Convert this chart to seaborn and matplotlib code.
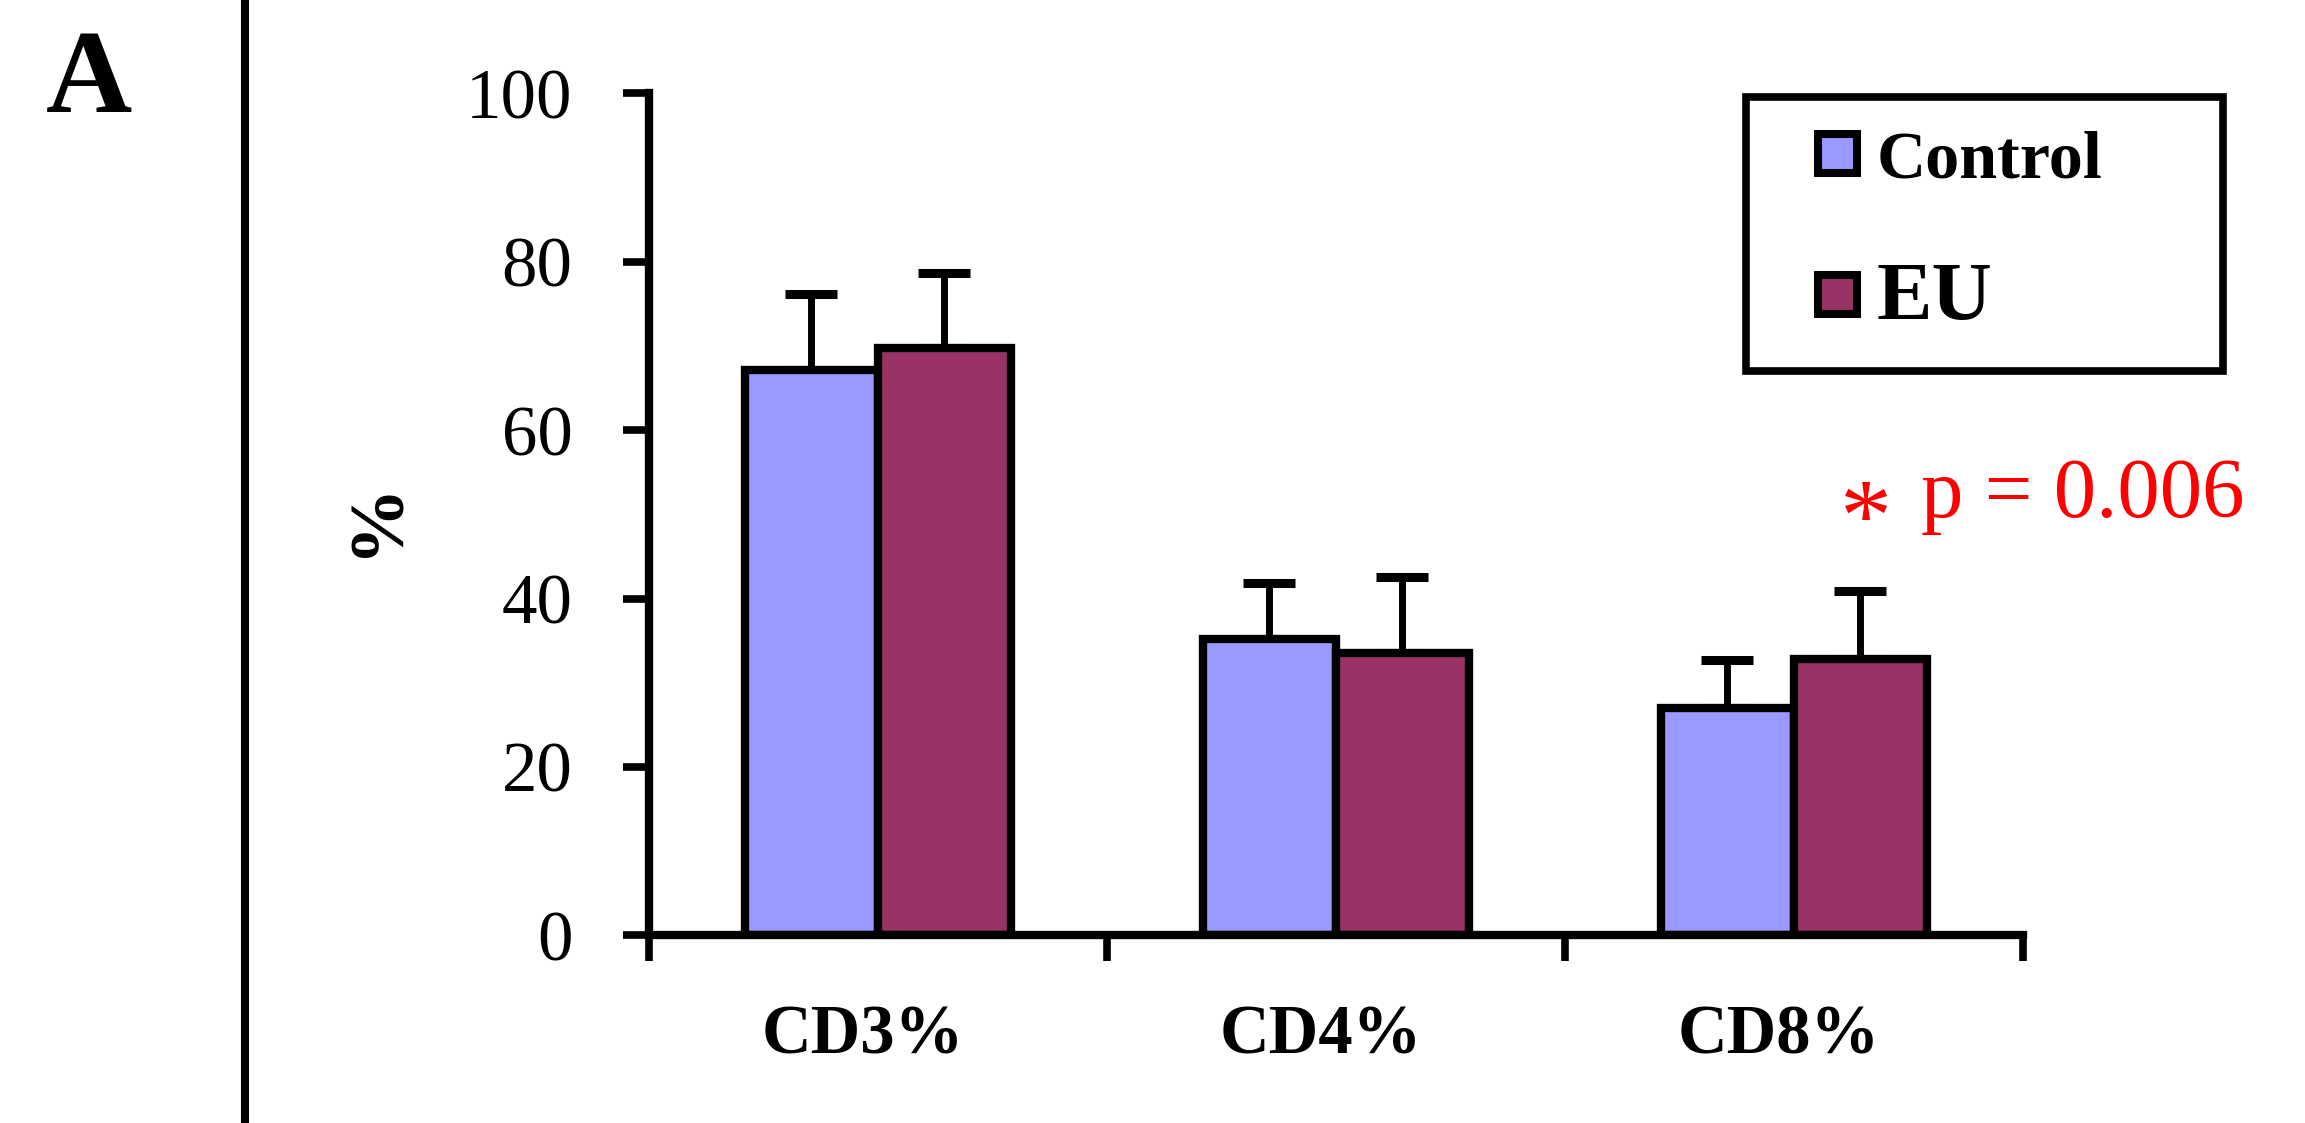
import numpy as np
import pandas as pd
import matplotlib
matplotlib.use('Agg')
import matplotlib.pyplot as plt
import seaborn as sns
from matplotlib.patches import Rectangle
from matplotlib.lines import Line2D

# ---- data ----
categories = ['CD3%', 'CD4%', 'CD8%']
groups = ['Control', 'EU']
control_mean = [67.1, 35.2, 27.0]
control_err = [9.1, 6.6, 5.7]
eu_mean = [69.7, 33.5, 32.8]
eu_err = [9.0, 9.1, 8.1]
yticks = [0, 20, 40, 60, 80, 100]
colors = ['#9999FF', '#993366']
panel_label = 'A'
ylabel = '%'
star_text = '*'
p_text = 'p = 0.006'

sns.set_theme(style='white')
plt.rcParams['font.family'] = ['Liberation Serif', 'DejaVu Serif']
plt.rcParams['text.color'] = 'black'
plt.rcParams['axes.labelcolor'] = 'black'
plt.rcParams['xtick.color'] = 'black'
plt.rcParams['ytick.color'] = 'black'
plt.rcParams['lines.solid_capstyle'] = 'round'

df = pd.DataFrame({
    'category': categories * 2,
    'group': [groups[0]] * len(categories) + [groups[1]] * len(categories),
    'value': control_mean + eu_mean,
})
errs = {groups[0]: control_err, groups[1]: eu_err}

fig = plt.figure(figsize=(23.05, 11.23), dpi=100)
ax = fig.add_axes([0.2815, 0.16705, 0.5961, 0.74987])

sns.barplot(data=df, x='category', y='value', hue='group', order=categories,
            hue_order=groups, palette=colors, saturation=1, width=0.58,
            edgecolor='black', linewidth=6, errorbar=None, ax=ax)

for cont, g in zip(ax.containers, groups):
    xs = [b.get_x() + b.get_width() / 2 for b in cont]
    hs = [b.get_height() for b in cont]
    _, caps, bars = ax.errorbar(xs, hs, yerr=[np.zeros(len(hs)), errs[g]], fmt='none',
                                ecolor='black', elinewidth=5, capsize=19, capthick=6.5,
                                zorder=0.9)
    for c in bars:
        c.set_capstyle('round')

ax.set_xlim(-0.5, 2.5)
ax.set_ylim(0, 100)
sns.despine(ax=ax)
for s in ['left', 'bottom']:
    ax.spines[s].set_linewidth(6)
    ax.spines[s].set_color('black')
    ax.spines[s].set_capstyle('projecting')

# category labels sit slightly left of the bar-pair centres in the reference
label_shift = 0.033
ax.set_xticks([-0.5, 0.5, 1.5, 2.5])
ax.set_xticklabels([])
ax.set_xticks([i - label_shift for i in range(len(categories))], minor=True)
ax.set_xticklabels(categories, minor=True, fontsize=49.5, fontweight='bold')
ax.tick_params(axis='x', which='major', bottom=True, direction='out', length=19, width=5.5)
ax.tick_params(axis='x', which='minor', bottom=True, length=0, pad=50)
ax.set_yticks(yticks)
ax.set_yticklabels([str(v) for v in yticks], fontsize=51)
ax.tick_params(axis='y', which='major', left=True, direction='out', length=19, width=5.5, pad=36)
ax.set_xlabel('')
ax.set_ylabel('')

# legend
old = ax.get_legend()
handles = list(old.legend_handles)
labels = [t.get_text() for t in old.get_texts()]
old.remove()
leg = ax.legend(handles, labels, loc='upper left', bbox_to_anchor=(0.7887, 0.8837),
                bbox_transform=fig.transFigure, frameon=False, borderpad=0,
                borderaxespad=0, handlelength=0.57, handleheight=0.49,
                handletextpad=0.29, labelspacing=1.03,
                prop={'family': ['Liberation Serif', 'DejaVu Serif'], 'weight': 'bold', 'size': 49})
leg.get_texts()[1].set_fontsize(60)
for h in leg.legend_handles:
    h.set_edgecolor('black')
    h.set_linewidth(5.8)
fig.add_artist(Rectangle((0.7573, 0.6692), 0.9646 - 0.7573, 0.9132 - 0.6692,
                         transform=fig.transFigure, fill=False, edgecolor='black', linewidth=5.5))

# separator line and texts
fig.add_artist(Line2D([0.1063, 0.1063], [0, 1], transform=fig.transFigure, color='black', linewidth=5.8))
fig.text(0.0386, 0.9003, panel_label, ha='center', va='baseline', fontsize=86, fontweight='bold')
fig.text(0.164, 0.5387, ylabel, ha='center', va='center', rotation=90, fontsize=56, fontweight='bold')
fig.text(0.7983, 0.5102, star_text, ha='left', va='baseline', fontsize=75, color='#FF0000')
fig.text(0.8334, 0.5396, p_text, ha='left', va='baseline', fontsize=61, color='#FF0000')

fig.savefig('out.png', dpi=100, facecolor='white')
